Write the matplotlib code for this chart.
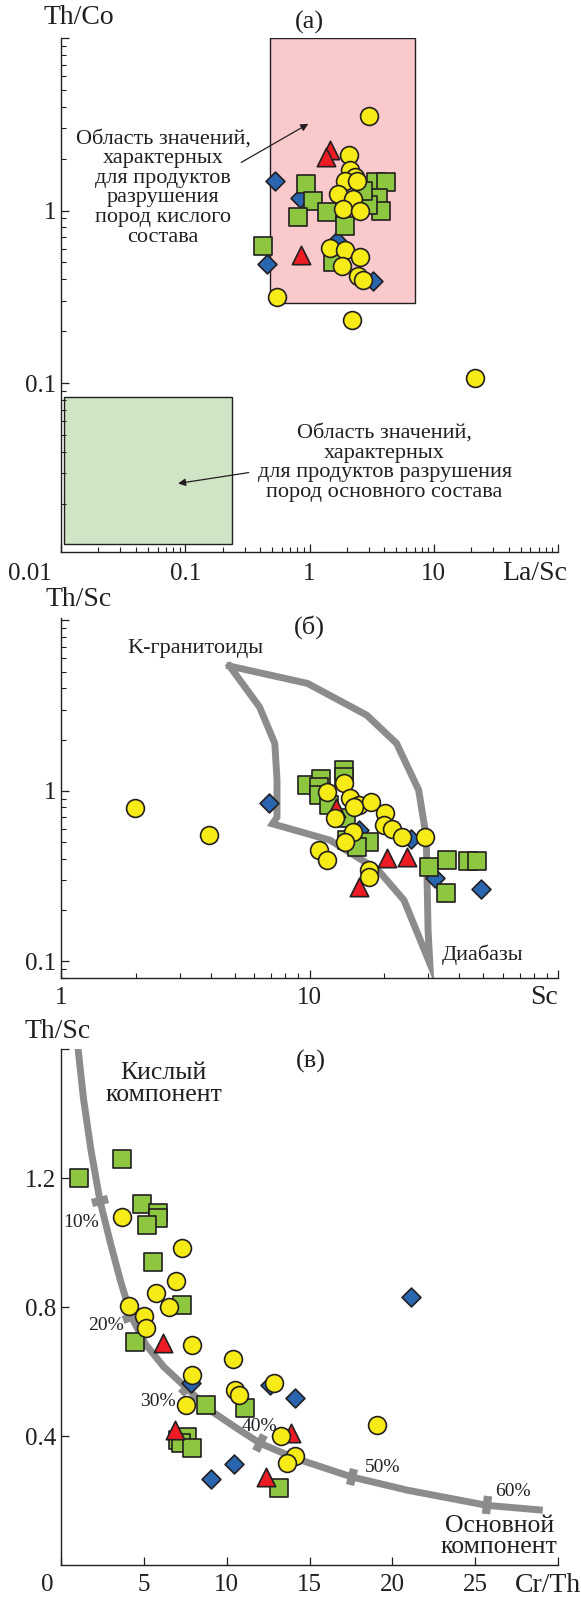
import numpy as np
import matplotlib
matplotlib.use("Agg")
import matplotlib.pyplot as plt
from matplotlib.markers import MarkerStyle
from matplotlib.transforms import Affine2D
from matplotlib.ticker import LogLocator, NullFormatter

plt.rcParams['font.family'] = ['Liberation Serif', 'DejaVu Serif']
plt.rcParams['text.color'] = '#231f20'

W, H = 581, 1599
INK = '#231f20'
YELLOW = '#f6eb16'
GREEN = '#8dc63f'
BLUE = '#2a65b0'
RED = '#ed1c24'
GRAY = '#8c8c8c'
PINK = '#f9c9cb'
LIGHTGREEN = '#cfe5c6'

# ---- (a) Th/Co vs La/Sc ----
a_circ_x = [3.00, 2.08, 2.12, 2.31, 1.92, 2.42, 1.70, 2.22, 1.86, 2.54,
            1.45, 1.92, 2.54, 1.81, 2.46, 2.70, 0.547, 2.19, 21.4]
a_circ_y = [3.51, 2.10, 1.72, 1.57, 1.49, 1.49, 1.25, 1.17, 1.02, 1.00,
            0.608, 0.587, 0.537, 0.48, 0.42, 0.394, 0.315, 0.231, 0.107]
a_sq_x = [0.944, 1.07, 0.807, 1.39, 1.92, 3.46, 4.10, 3.57, 3.75, 2.94, 2.69, 0.423, 1.55]
a_sq_y = [1.43, 1.14, 0.915, 0.978, 0.819, 1.46, 1.47, 1.19, 1.00, 1.07, 1.30, 0.619, 0.502]
a_dia_x = [0.525, 0.834, 0.458, 3.22, 1.65]
a_dia_y = [1.49, 1.19, 0.49, 0.39, 0.67]
a_tri_x = [1.45, 1.37, 0.85]
a_tri_y = [2.25, 2.04, 0.554]
felsic_box = (0.48, 7.0, 0.29, 10.0)     # La/Sc min, max, Th/Co min, max
mafic_box = (0.0105, 0.24, 0.0117, 0.083)

# ---- (б) Th/Sc vs Sc ----
b_circ_x = [1.99, 3.95, 11.8, 13.8, 14.6, 15.8, 17.6, 12.7, 20.2, 19.9,
            21.5, 23.6, 29.1, 14.9, 13.9, 10.9, 11.8, 17.3, 17.3, 15.1]
b_circ_y = [0.788, 0.549, 0.987, 1.105, 0.902, 0.824, 0.862, 0.689, 0.737, 0.629,
            0.601, 0.537, 0.537, 0.574, 0.502, 0.449, 0.395, 0.342, 0.313, 0.806]
b_sq_x = [9.8, 11.1, 13.8, 13.8, 10.9, 10.9, 12.0, 14.0, 14.2, 17.3, 15.5, 30.2, 35.8, 43.4, 47.0, 35.3]
b_sq_y = [1.08, 1.18, 1.32, 1.21, 1.06, 0.944, 0.824, 0.689, 0.513, 0.502, 0.469, 0.358, 0.392, 0.388, 0.388, 0.25]
b_dia_x = [6.89, 15.8, 25.5, 32.1, 49.0]
b_dia_y = [0.843, 0.588, 0.525, 0.306, 0.267]
b_tri_x = [12.8, 20.5, 24.6, 15.8]
b_tri_y = [0.788, 0.401, 0.410, 0.273]
b_field_x = [4.77, 9.83, 17.0, 22.4, 27.5, 29.5, 30.0, 30.5, 24.0, 18.9, 12.1, 7.1, 7.4, 7.4, 7.25, 6.29, 4.77]
b_field_y = [5.40, 4.27, 2.78, 1.90, 1.01, 0.536, 0.152, 0.097, 0.228, 0.342, 0.513, 0.64, 0.70, 1.16, 1.90, 3.11, 5.40]

# ---- (в) Th/Sc vs Cr/Th ----
c_circ_x = [3.70, 7.33, 6.95, 5.76, 4.11, 6.50, 5.00, 5.11, 7.91, 10.37,
            7.88, 12.87, 10.48, 10.75, 7.57, 19.06, 13.25, 14.14, 13.65]
c_circ_y = [1.081, 0.984, 0.882, 0.844, 0.805, 0.802, 0.771, 0.735, 0.683, 0.639,
            0.590, 0.564, 0.543, 0.527, 0.496, 0.434, 0.400, 0.338, 0.317]
c_sq_x = [1.09, 3.70, 4.89, 5.83, 5.87, 5.20, 5.54, 7.28, 4.49, 8.78, 11.13, 7.06, 7.62, 7.24, 7.88, 13.16]
c_sq_y = [1.20, 1.261, 1.121, 1.093, 1.077, 1.054, 0.939, 0.808, 0.693, 0.496, 0.486, 0.387, 0.398, 0.377, 0.362, 0.24]
c_dia_x = [21.1, 7.84, 12.60, 14.14, 10.46, 9.07]
c_dia_y = [0.832, 0.564, 0.558, 0.519, 0.312, 0.268]
c_tri_x = [6.16, 6.88, 13.88, 12.38]
c_tri_y = [0.69, 0.419, 0.408, 0.273]
mix_x = [1.02, 1.36, 1.80, 2.36, 3.03, 3.60, 4.25, 5.10, 6.20, 7.60, 9.00,
         10.80, 12.00, 14.20, 17.56, 20.92, 25.72, 29.08]
mix_y = [1.607, 1.446, 1.290, 1.128, 0.990, 0.880, 0.770, 0.685, 0.615, 0.548, 0.480,
         0.418, 0.378, 0.330, 0.273, 0.232, 0.185, 0.170]
mark_pct = ['10%', '20%', '30%', '40%', '50%', '60%']
mark_x = [2.36, 4.25, 7.60, 12.00, 17.56, 25.72]
mark_y = [1.128, 0.770, 0.548, 0.378, 0.273, 0.185]
pct_x = [1.19, 2.70, 5.83, 11.98, 19.40, 27.29]
pct_y = [1.062, 0.743, 0.507, 0.429, 0.304, 0.227]


def px_rect(left, top, right, bottom):
    return [left / W, 1 - bottom / H, (right - left) / W, (bottom - top) / H]


def ftext(x, y, s, **kw):
    kw.setdefault('ha', 'center')
    kw.setdefault('va', 'center')
    fig.text(x / W, 1 - y / H, s, **kw)


def style(ax, xpad, ypad):
    for s in ('top', 'right'):
        ax.spines[s].set_visible(False)
    for s in ('left', 'bottom'):
        ax.spines[s].set_linewidth(1.0)
        ax.spines[s].set_color(INK)
    ax.tick_params(which='both', direction='in', colors=INK, labelsize=18)
    ax.tick_params(which='major', length=6, width=0.9)
    ax.tick_params(which='minor', length=3.5, width=0.8)
    ax.tick_params(axis='x', pad=xpad)
    ax.tick_params(axis='y', pad=ypad)


def points(ax, cx, cy, sx, sy, dx, dy, tx, ty):
    kw = dict(edgecolors=INK, linewidths=1.2, clip_on=False)
    ax.scatter(dx, dy, marker='D', s=92, c=BLUE, zorder=3, **kw)
    ax.scatter(sx, sy, marker='s', s=175, c=GREEN, zorder=4, **kw)
    ax.scatter(tx, ty, marker='^', s=175, c=RED, zorder=5, **kw)
    ax.scatter(cx, cy, marker='o', s=165, c=YELLOW, zorder=6, **kw)


def arrow(ax, tail, head):
    ax.annotate('', xy=head, xytext=tail,
                arrowprops=dict(arrowstyle='-|>', color=INK, lw=0.9, mutation_scale=11,
                                shrinkA=0, shrinkB=0))


fig = plt.figure(figsize=(W / 100, H / 100), dpi=100)

# (a)
ax1 = fig.add_axes(px_rect(61, 38, 558, 552))
ax1.set_xscale('log')
ax1.set_yscale('log')
ax1.set_xlim(0.01, 100)
ax1.set_ylim(0.0105, 10)
style(ax1, 8, 3.5)
ax1.set_xticks([0.01, 0.1, 1, 10, 100], ['', '0.1', '1', '10', ''])
ax1.set_yticks([0.1, 1, 10], ['0.1', '1', ''])
for axis in (ax1.xaxis, ax1.yaxis):
    axis.set_minor_locator(LogLocator(base=10, subs=np.arange(2, 10)))
    axis.set_minor_formatter(NullFormatter())
x0, x1, y0, y1 = felsic_box
ax1.fill([x0, x1, x1, x0], [y0, y0, y1, y1], facecolor=PINK, edgecolor=INK, lw=1.0, zorder=1)
x0, x1, y0, y1 = mafic_box
ax1.fill([x0, x1, x1, x0], [y0, y0, y1, y1], facecolor=LIGHTGREEN, edgecolor=INK, lw=1.0, zorder=1)
points(ax1, a_circ_x, a_circ_y, a_sq_x, a_sq_y, a_dia_x, a_dia_y, a_tri_x, a_tri_y)
ax1.text(0.0665, 1.35, 'Область значений,\nхарактерных\nдля продуктов\nразрушения\nпород кислого\nсостава',
         ha='center', va='center', fontsize=16, linespacing=1.05)
arrow(ax1, (0.282, 1.90), (0.978, 3.18))
ax1.text(4.02, 0.0345, 'Область значений,\nхарактерных\nдля продуктов разрушения\nпород основного состава',
         ha='center', va='center', fontsize=16, linespacing=1.05)
arrow(ax1, (0.324, 0.0303), (0.0875, 0.0262))
ftext(79, 18, 'Th/Co', fontsize=20)
ftext(309.7, 22, '(a)', fontsize=19)
ftext(52, 574, '0.01', fontsize=18, ha='right')
ftext(567, 574, 'La/Sc', fontsize=20, ha='right')

# (б)
ax2 = fig.add_axes(px_rect(61, 618.3, 558, 977.7))
ax2.set_xscale('log')
ax2.set_yscale('log')
ax2.set_xlim(1, 100)
ax2.set_ylim(0.08, 10.3)
style(ax2, 7, 3.5)
ax2.set_xticks([1, 10, 100], ['1', '10', ''])
ax2.set_yticks([0.1, 1, 10], ['0.1', '1', ''])
for axis in (ax2.xaxis, ax2.yaxis):
    axis.set_minor_locator(LogLocator(base=10, subs=np.arange(2, 10)))
    axis.set_minor_formatter(NullFormatter())
ax2.plot(b_field_x, b_field_y, color=GRAY, lw=5, solid_joinstyle='miter', zorder=2)
points(ax2, b_circ_x, b_circ_y, b_sq_x, b_sq_y, b_dia_x, b_dia_y, b_tri_x, b_tri_y)
ftext(79, 600, 'Th/Sc', fontsize=20)
ftext(309.7, 627, '(б)', fontsize=19)
ftext(195, 648, 'K-гранитоиды', fontsize=16)
ftext(483, 955, 'Диабазы', fontsize=16)
ftext(558, 997, 'Sc', fontsize=20, ha='right')

# (в)
ax3 = fig.add_axes(px_rect(61, 1049.3, 558, 1565))
ax3.set_xlim(0, 30)
ax3.set_ylim(0, 1.6)
style(ax3, 6.5, 3.5)
ax3.set_xticks([0, 5, 10, 15, 20, 25, 30], ['', '5', '10', '15', '20', '25', ''])
ax3.set_yticks([0.4, 0.8, 1.2, 1.6], ['0.4', '0.8', '1.2', ''])
ax3.plot(mix_x, mix_y, color=GRAY, lw=5, solid_capstyle='butt', zorder=2)

# cross-bars on the mixing line, perpendicular to its local direction
disp = ax3.transData.transform(np.column_stack([mix_x, mix_y]))
for mx, my in zip(mark_x, mark_y):
    p = ax3.transData.transform((mx, my))
    i = int(np.argmin(np.hypot(*(disp - p).T)))
    j0, j1 = max(i - 1, 0), min(i + 1, len(mix_x) - 1)
    ang = np.degrees(np.arctan2(disp[j1, 1] - disp[j0, 1], disp[j1, 0] - disp[j0, 0]))
    ax3.plot([mx], [my], linestyle='none', color=GRAY, markersize=12.5, markeredgewidth=6,
             marker=MarkerStyle('|', transform=Affine2D().rotate_deg(ang)), zorder=2)
for s, tx, ty in zip(mark_pct, pct_x, pct_y):
    ax3.text(tx, ty, s, fontsize=14, ha='center', va='center', zorder=7)

points(ax3, c_circ_x, c_circ_y, c_sq_x, c_sq_y, c_dia_x, c_dia_y, c_tri_x, c_tri_y)
ftext(57.6, 1031.7, 'Th/Sc', fontsize=20)
ftext(310.4, 1061.7, '(в)', fontsize=19)
ftext(163.6, 1084, 'Кислый\nкомпонент', fontsize=18.5, linespacing=1.0)
ftext(499.2, 1536.7, 'Основной\nкомпонент', fontsize=18.5, linespacing=0.95)
ftext(54, 1585, '0', fontsize=18, ha='right')
ftext(581, 1585, 'Cr/Th', fontsize=20, ha='right')

fig.savefig('out.png', dpi=100)
